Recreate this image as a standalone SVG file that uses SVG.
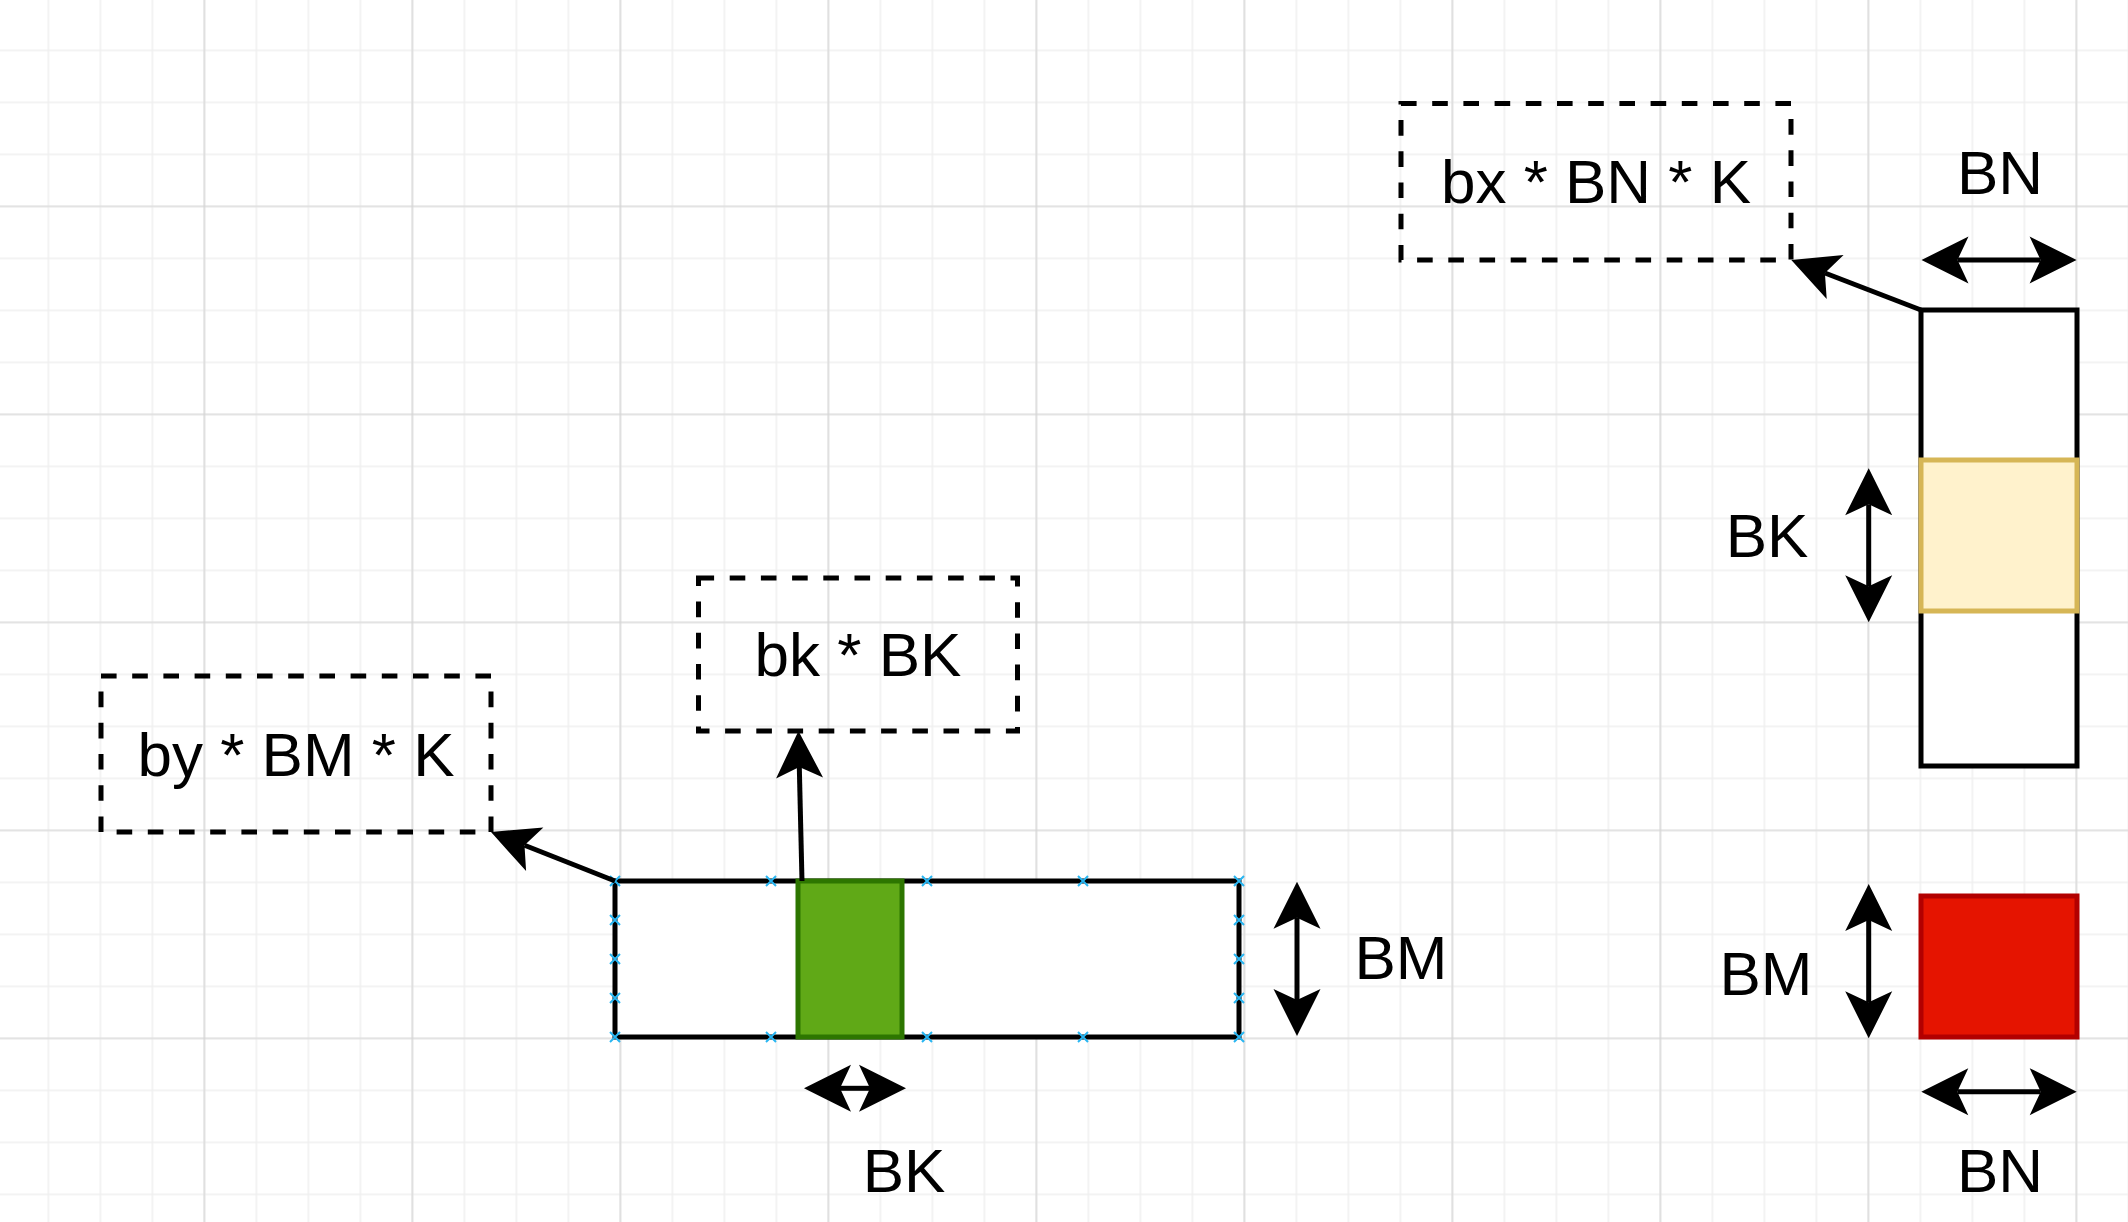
<svg xmlns="http://www.w3.org/2000/svg" width="2128" height="1222" viewBox="0 0 2128 1222">
<style>
.lbl{font-family:"Liberation Sans",Arial,Helvetica,sans-serif;font-size:62px;fill:#000;text-anchor:middle}
.box{fill:#fff;stroke:#000;stroke-width:5}
.dash{fill:none;stroke:#000;stroke-width:5;stroke-dasharray:15.6 15.6}
.con{fill:none;stroke:#000;stroke-width:5}
.cp{fill:none;stroke:#29b6f2;stroke-width:2}
</style>
<defs>
<pattern id="gMinor" width="52" height="52" patternUnits="userSpaceOnUse" x="-4.6" y="-2.6">
<path d="M1,0 V52 M0,1 H52" stroke="#f0f0f0" stroke-width="1.6" fill="none"/>
</pattern>
<pattern id="gMajor" width="208" height="208" patternUnits="userSpaceOnUse" x="-4.6" y="-2.6">
<path d="M1,0 V208 M0,1 H208" stroke="#d3d3d3" stroke-width="1.2" fill="none"/>
</pattern>
<marker id="ah" viewBox="-12 -25 50 50" refX="0" refY="0" markerWidth="50" markerHeight="50" markerUnits="userSpaceOnUse" orient="auto-start-reverse" overflow="visible">
<path d="M36,0 L-11,-23.5 L0,0 L-11,23.5 Z" fill="#000"/>
</marker>
<path id="xm" d="M-5,-5 L5,5 M-5,5 L5,-5"/>
</defs>
<rect width="2128" height="1222" fill="#fff"/>
<g id="grid">
<rect width="2128" height="1222" fill="url(#gMinor)"/>
<rect width="2128" height="1222" fill="url(#gMajor)"/>
</g>

<g id="main-block">
<rect class="box" x="615" y="881" width="624" height="156"/>
<g class="cp">
<use href="#xm" x="615" y="881"/><use href="#xm" x="771" y="881"/><use href="#xm" x="927" y="881"/><use href="#xm" x="1083" y="881"/><use href="#xm" x="1239" y="881"/>
<use href="#xm" x="615" y="1037"/><use href="#xm" x="771" y="1037"/><use href="#xm" x="927" y="1037"/><use href="#xm" x="1083" y="1037"/><use href="#xm" x="1239" y="1037"/>
<use href="#xm" x="615" y="920"/><use href="#xm" x="615" y="959"/><use href="#xm" x="615" y="998"/>
<use href="#xm" x="1239" y="920"/><use href="#xm" x="1239" y="959"/><use href="#xm" x="1239" y="998"/>
</g>
</g>
<g id="green-tile">
<rect x="798" y="881" width="104" height="156" fill="#60a917" stroke="#2d7600" stroke-width="5"/>
</g>
<g id="tall-block">
<rect class="box" x="1921" y="310" width="156" height="456"/>
</g>
<g id="yellow-tile">
<rect x="1921" y="460" width="156" height="151" fill="#fff2cc" stroke="#d6b656" stroke-width="5"/>
</g>
<g id="red-tile">
<rect x="1921" y="896" width="156" height="141" fill="#e51400" stroke="#b20000" stroke-width="5"/>
</g>
<g id="by-box">
<rect class="dash" x="101" y="676" width="390" height="156"/>
<text class="lbl" x="296" y="776">by * BM * K</text>
</g>
<g id="bk-box">
<rect class="dash" x="698.5" y="578" width="319" height="153"/>
<text class="lbl" x="858" y="676">bk * BK</text>
</g>
<g id="bx-box">
<rect class="dash" x="1401" y="103.5" width="390" height="156.5"/>
<text class="lbl" x="1596" y="203">bx * BN * K</text>
</g>
<g id="labels">
<text class="lbl" x="904" y="1192">BK</text>
<text class="lbl" x="1401" y="979">BM</text>
<text class="lbl" x="1767" y="557">BK</text>
<text class="lbl" x="1766" y="995">BM</text>
<text class="lbl" x="2000" y="194">BN</text>
<text class="lbl" x="2000" y="1192">BN</text>
</g>
<g id="connectors">
<path class="con" d="M615,881 L524.5,845.2" marker-end="url(#ah)"/>
<path class="con" d="M802,881 L799.3,767" marker-end="url(#ah)"/>
<path class="con" d="M1921,310 L1824.9,273" marker-end="url(#ah)"/>
<path class="con" d="M840,1088.3 L870,1088.3" marker-start="url(#ah)" marker-end="url(#ah)"/>
<path class="con" d="M1297,917.7 L1297,1000" marker-start="url(#ah)" marker-end="url(#ah)"/>
<path class="con" d="M1868.7,504.3 L1868.7,586.3" marker-start="url(#ah)" marker-end="url(#ah)"/>
<path class="con" d="M1868.7,920 L1868.7,1002.3" marker-start="url(#ah)" marker-end="url(#ah)"/>
<path class="con" d="M1957.5,260 L2040.6,260" marker-start="url(#ah)" marker-end="url(#ah)"/>
<path class="con" d="M1957.3,1091.7 L2040.7,1091.7" marker-start="url(#ah)" marker-end="url(#ah)"/>
</g>
</svg>
